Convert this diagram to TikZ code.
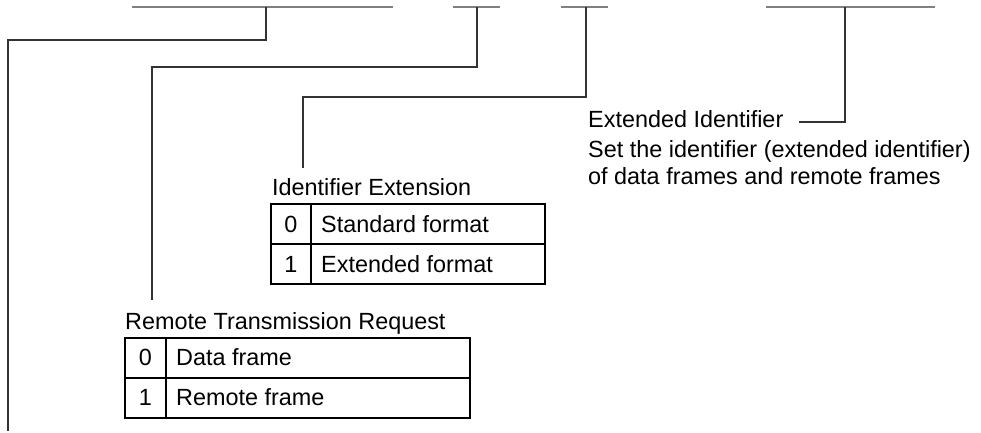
\documentclass[tikz,border=0pt]{standalone}
\usepackage{fontspec}
\setmainfont{Liberation Sans}
\begin{document}
\begin{tikzpicture}[x=1pt,y=-1pt,
  bar/.style={draw=black!50,line width=2pt},
  conn/.style={draw=black!80,line width=1.2pt},
  tbl/.style={draw=black,line width=1.2pt},
  txt/.style={inner sep=0pt,anchor=base west,font=\fontsize{23.4}{28}\selectfont},
  num/.style={inner sep=0pt,anchor=base,font=\fontsize{23.4}{28}\selectfont}]
\useasboundingbox (0,0) rectangle (981,433);
% top bars
\coordinate (b1l) at (132,7); \coordinate (b1r) at (393,7); \coordinate (b1m) at (266,7);
\coordinate (b2l) at (453,7); \coordinate (b2r) at (500,7); \coordinate (b2m) at (477,7);
\coordinate (b3l) at (561,7); \coordinate (b3r) at (608,7); \coordinate (b3m) at (586,7);
\coordinate (b4l) at (766,7); \coordinate (b4r) at (935,7); \coordinate (b4m) at (845,7);
\draw[bar] (b1l) -- (b1r);
\draw[bar] (b2l) -- (b2r);
\draw[bar] (b3l) -- (b3r);
\draw[bar] (b4l) -- (b4r);
% labels
\node[txt] (ei) at (588,128) {Extended Identifier};
\node[txt] (ei2) at (588,157) {Set the identifier (extended identifier)};
\node[txt] (ei3) at (588,184) {of data frames and remote frames};
\node[txt] (ie) at (272,195) {Identifier Extension};
\node[txt] (rtr) at (125,329) {Remote Transmission Request};
% IE table
\draw[tbl] (271,204) rectangle (545,284);
\draw[tbl] (271,244) -- (545,244);
\draw[tbl] (311,204) -- (311,284);
\node[num] (ie0) at (291,232) {0};
\node[txt] (ie0t) at (321,232) {Standard format};
\node[num] (ie1) at (291,272) {1};
\node[txt] (ie1t) at (321,272) {Extended format};
% RTR table
\draw[tbl] (125,338) rectangle (470,418);
\draw[tbl] (125,378) -- (470,378);
\draw[tbl] (166,338) -- (166,418);
\node[num] (r0) at (145.5,365) {0};
\node[txt] (r0t) at (176,365) {Data frame};
\node[num] (r1) at (145.5,405) {1};
\node[txt] (r1t) at (176,405) {Remote frame};
% connectors
\coordinate (e1) at (8,431);
\coordinate (e2) at (152,300);
\coordinate (e3) at (303,168);
\coordinate (e4) at (799,122);
\draw[conn] (b1m) -- (266,40) -- (8,40) -- (e1);
\draw[conn] (b2m) -- (477,67) -- (152,67) -- (e2);
\draw[conn] (b3m) -- (586,97) -- (303,97) -- (e3);
\draw[conn] (b4m) |- (e4);
\end{tikzpicture}
\end{document}
